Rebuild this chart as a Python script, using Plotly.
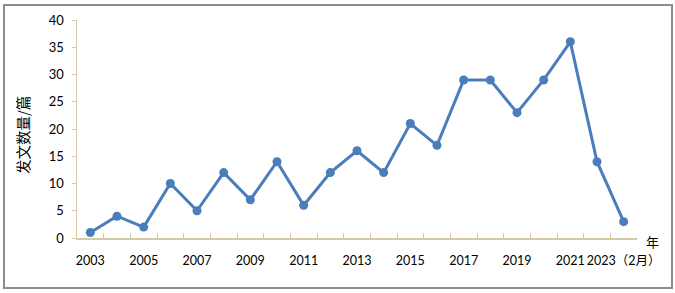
import plotly.graph_objects as go

years = ["2003", "2004", "2005", "2006", "2007", "2008", "2009", "2010", "2011", "2012",
         "2013", "2014", "2015", "2016", "2017", "2018", "2019", "2020", "2021", "2022",
         "2023（2月）"]
counts = [1, 4, 2, 10, 5, 12, 7, 14, 6, 12, 16, 12, 21, 17, 29, 29, 23, 29, 36, 14, 3]
tick_labels = ["2003", "", "2005", "", "2007", "", "2009", "", "2011", "", "2013", "",
               "2015", "", "2017", "", "2019", "", "2021", "", "2023（2月）"]
y_ticks = [0, 5, 10, 15, 20, 25, 30, 35, 40]

W, H = 675, 293
L, R, T, B = 77, 38, 20, 55
pw, ph = W - L - R, H - T - B

def px_x(p):
    return (p - L) / pw

def px_y(p):
    return (H - B - p) / ph

axis_col = "#D4CBA4"
font_fam = "Lato, 'Noto Sans CJK SC', sans-serif"
cjk = "'Noto Sans CJK SC', sans-serif"

fig = go.Figure()
fig.add_trace(go.Scatter(
    x=years, y=counts, mode="lines+markers",
    line=dict(color="#4A7EBB", width=3),
    marker=dict(color="#4A7EBB", size=9),
    cliponaxis=False, hoverinfo="skip",
))

fig.update_layout(
    width=W, height=H,
    margin=dict(l=L, r=R, t=T, b=B, autoexpand=False),
    paper_bgcolor="white", plot_bgcolor="white",
    showlegend=False,
    font=dict(family=font_fam, size=12, color="#000000"),
    xaxis=dict(
        type="category",
        tickmode="array", tickvals=years, ticktext=tick_labels,
        tickson="boundaries", ticks="inside", ticklen=5, tickcolor=axis_col,
        showline=True, linecolor=axis_col, linewidth=1.5,
        showgrid=False, zeroline=False,
        tickangle=0, tickfont=dict(size=12.5, family=font_fam),
        ticklabelstandoff=10,
        range=[-0.5, 20.5], fixedrange=True,
    ),
    yaxis=dict(
        range=[0, 40], tickvals=y_ticks,
        ticks="outside", ticklen=4, tickcolor=axis_col,
        showline=True, linecolor=axis_col, linewidth=1.5,
        showgrid=False, zeroline=False,
        tickfont=dict(size=13, family=font_fam),
        ticklabelstandoff=5, fixedrange=True,
    ),
    shapes=[dict(
        type="rect", xref="paper", yref="paper",
        x0=px_x(4), x1=px_x(672), y0=px_y(288), y1=px_y(5),
        line=dict(color="#8C8C8C", width=2), fillcolor="rgba(0,0,0,0)",
        layer="below",
    )],
    annotations=[
        dict(text="年", xref="paper", yref="paper",
             x=px_x(652), y=px_y(241), xanchor="center", yanchor="middle",
             showarrow=False, font=dict(size=13, family=cjk)),
        dict(text="发文数量/篇", xref="paper", yref="paper",
             x=px_x(22), y=px_y(135), xanchor="center", yanchor="middle",
             showarrow=False, textangle=-90,
             font=dict(size=14.5, family=cjk)),
    ],
)

fig.write_html("out.html", config={"displayModeBar": False, "staticPlot": True},
               post_script="document.body.style.margin='0';document.body.style.overflow='hidden';")
